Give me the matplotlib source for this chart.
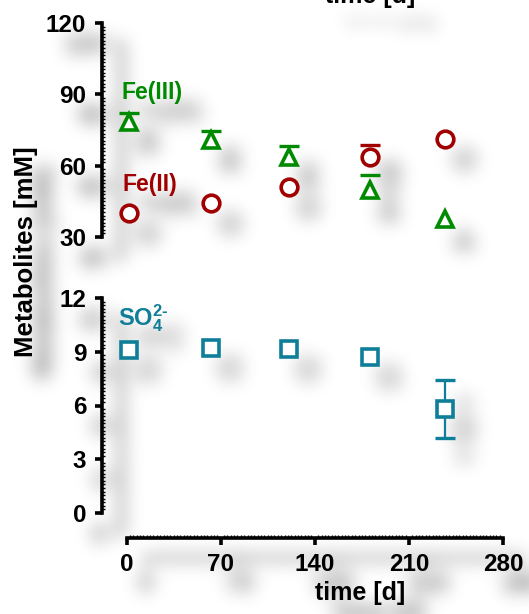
import numpy as np
import matplotlib
matplotlib.use("Agg")
import matplotlib.pyplot as plt
from matplotlib.ticker import MultipleLocator, FixedLocator

# values
days = [2, 63, 121, 181, 237]
fe3 = [78.5, 70.9, 63.8, 49.9, 37.7]
fe3_err = [3.5, 3.5, 4.3, 6.3, 0.0]
fe2 = [40.2, 44.4, 50.9, 63.8, 71.2]
fe2_err = [0.0, 0.0, 0.0, 5.0, 0.0]
so4 = [9.08, 9.2, 9.15, 8.7, 5.82]
so4_err = [0.1, 0.1, 0.1, 0.15, 1.63]

top_ticks = [30, 60, 90, 120]
bot_ticks = [0, 3, 6, 9, 12]
x_ticks = [0, 70, 140, 210, 280]

green = "#008a00"
red = "#a00000"
teal = "#0f7f99"

plt.rcParams["font.family"] = ["Liberation Sans", "DejaVu Sans"]
plt.rcParams["font.weight"] = "bold"
plt.rcParams["axes.labelweight"] = "bold"
plt.rcParams["mathtext.fontset"] = "custom"
plt.rcParams["mathtext.rm"] = "Liberation Sans:bold"
plt.rcParams["mathtext.it"] = "Liberation Sans:bold"
plt.rcParams["mathtext.bf"] = "Liberation Sans:bold"


def blur(a, sigma):
    r = int(3 * sigma)
    x = np.arange(-r, r + 1)
    k = np.exp(-0.5 * (x / sigma) ** 2)
    k = k / k.sum()
    h, w = a.shape
    p = np.pad(a, r)
    tmp = sum(k[i] * p[:, i:i + w] for i in range(len(k)))
    return sum(k[i] * tmp[i:i + h, :] for i in range(len(k)))


class Shadow:
    # soft grey drop shadow; white fills cast none
    def __init__(self, sigma=9, dx=19, dy=20, alpha=0.6):
        self.sigma = sigma
        self.dx = dx
        self.dy = dy
        self.alpha = alpha
        self.pad = int(dx + dy + 3 * sigma)

    def __call__(self, im, dpi):
        pad = self.pad
        src = np.pad(im, [(pad, pad), (pad, pad), (0, 0)])
        a = src[..., 3]
        lum = src[..., 0] * 0.299 + src[..., 1] * 0.587 + src[..., 2] * 0.114
        w = a * np.sqrt(np.clip(1 - lum, 0, 1))
        sh = blur(w, self.sigma) * self.alpha
        sh = np.roll(sh, (self.dy, self.dx), axis=(0, 1))
        out_a = a + sh * (1 - a)
        rgb = src[..., :3] * a[..., None]
        rgb = rgb / np.maximum(out_a, 1e-6)[..., None]
        out = np.dstack([np.clip(rgb, 0, 1), np.clip(out_a, 0, 1)])
        return out, -pad, -pad


def bars(ax, y, err, color, upper_only):
    # bars hidden inside the marker are skipped (nan)
    up = np.where(np.array(err) > 0.5, err, np.nan)
    lo = np.full(len(up), np.nan) if upper_only else up
    ax.errorbar(days, y, yerr=[lo, up], fmt="none", ecolor=color, elinewidth=1.6,
                capsize=7, capthick=2.4, zorder=2, clip_on=False)


fig = plt.figure(figsize=(5.29, 6.14), dpi=100)
xl = (-18.6, 288.8)
ax1 = fig.add_axes([101.5 / 529, 1 - 237 / 614, 413.5 / 529, 214 / 614])
ax2 = fig.add_axes([101.5 / 529, 1 - 513 / 614, 413.5 / 529, 215 / 614])

mk = dict(mfc="white", mew=2.6, linestyle="none", zorder=3, clip_on=False)

bars(ax1, fe3, fe3_err, green, True)
bars(ax1, fe2, fe2_err, red, True)
ax1.plot(days, fe3, marker="^", ms=12, mec=green, **mk)
ax1.plot(days, fe2, marker="o", ms=12, mec=red, **mk)
ax1.text(-4, 90.6, "Fe(III)", color=green, fontsize=16.5, va="center", ha="left")
ax1.text(-3, 51.9, "Fe(II)", color=red, fontsize=16.5, va="center", ha="left")

bars(ax2, so4, so4_err, teal, False)
ax2.plot(days, so4, marker="s", ms=12, mec=teal, **mk)
ax2.text(-6.3, 10.85, r"SO$_4^{2\text{-}}$", color=teal, fontsize=17, va="center", ha="left")

ax1.set_ylim(30, 120)
ax1.set_yticks(top_ticks)
ax1.yaxis.set_minor_locator(MultipleLocator(1.5))
ax1.spines["left"].set_bounds(30, 120)
ax1.set_xticks([])
for s in ["top", "right", "bottom"]:
    ax1.spines[s].set_visible(False)

ax2.set_ylim(0, 12)
ax2.set_yticks(bot_ticks)
ax2.yaxis.set_minor_locator(MultipleLocator(0.2))
ax2.spines["left"].set_bounds(0, 12)
ax2.set_xticks(x_ticks)
ax2.xaxis.set_minor_locator(FixedLocator(np.arange(0, 280.1, 2.5)))
ax2.spines["bottom"].set_bounds(0, 280)
ax2.spines["bottom"].set_position(("outward", 18))
for s in ["top", "right"]:
    ax2.spines[s].set_visible(False)
ax2.set_xlabel("time [d]", fontsize=18)
ax2.xaxis.set_label_coords(0.625, -0.315)

for ax in (ax1, ax2):
    ax.set_xlim(*xl)
    ax.set_facecolor("none")
    for s in ax.spines.values():
        s.set_linewidth(2.6)
    ax.tick_params(which="major", length=5, width=2.6, labelsize=17.5, pad=6)
    ax.tick_params(which="minor", length=2.5, width=1, direction="in")
    ax.set_agg_filter(Shadow())

t1 = fig.text(26 / 529, 1 - 252 / 614, "Metabolites [mM]", rotation=90,
              fontsize=18.5, ha="center", va="center")
t2 = fig.text(370 / 529, 1 - 3 / 614, "time [d]", fontsize=18, ha="center", va="baseline")
t1.set_agg_filter(Shadow())
t2.set_agg_filter(Shadow())

fig.savefig("out.png", dpi=100, facecolor="white")
